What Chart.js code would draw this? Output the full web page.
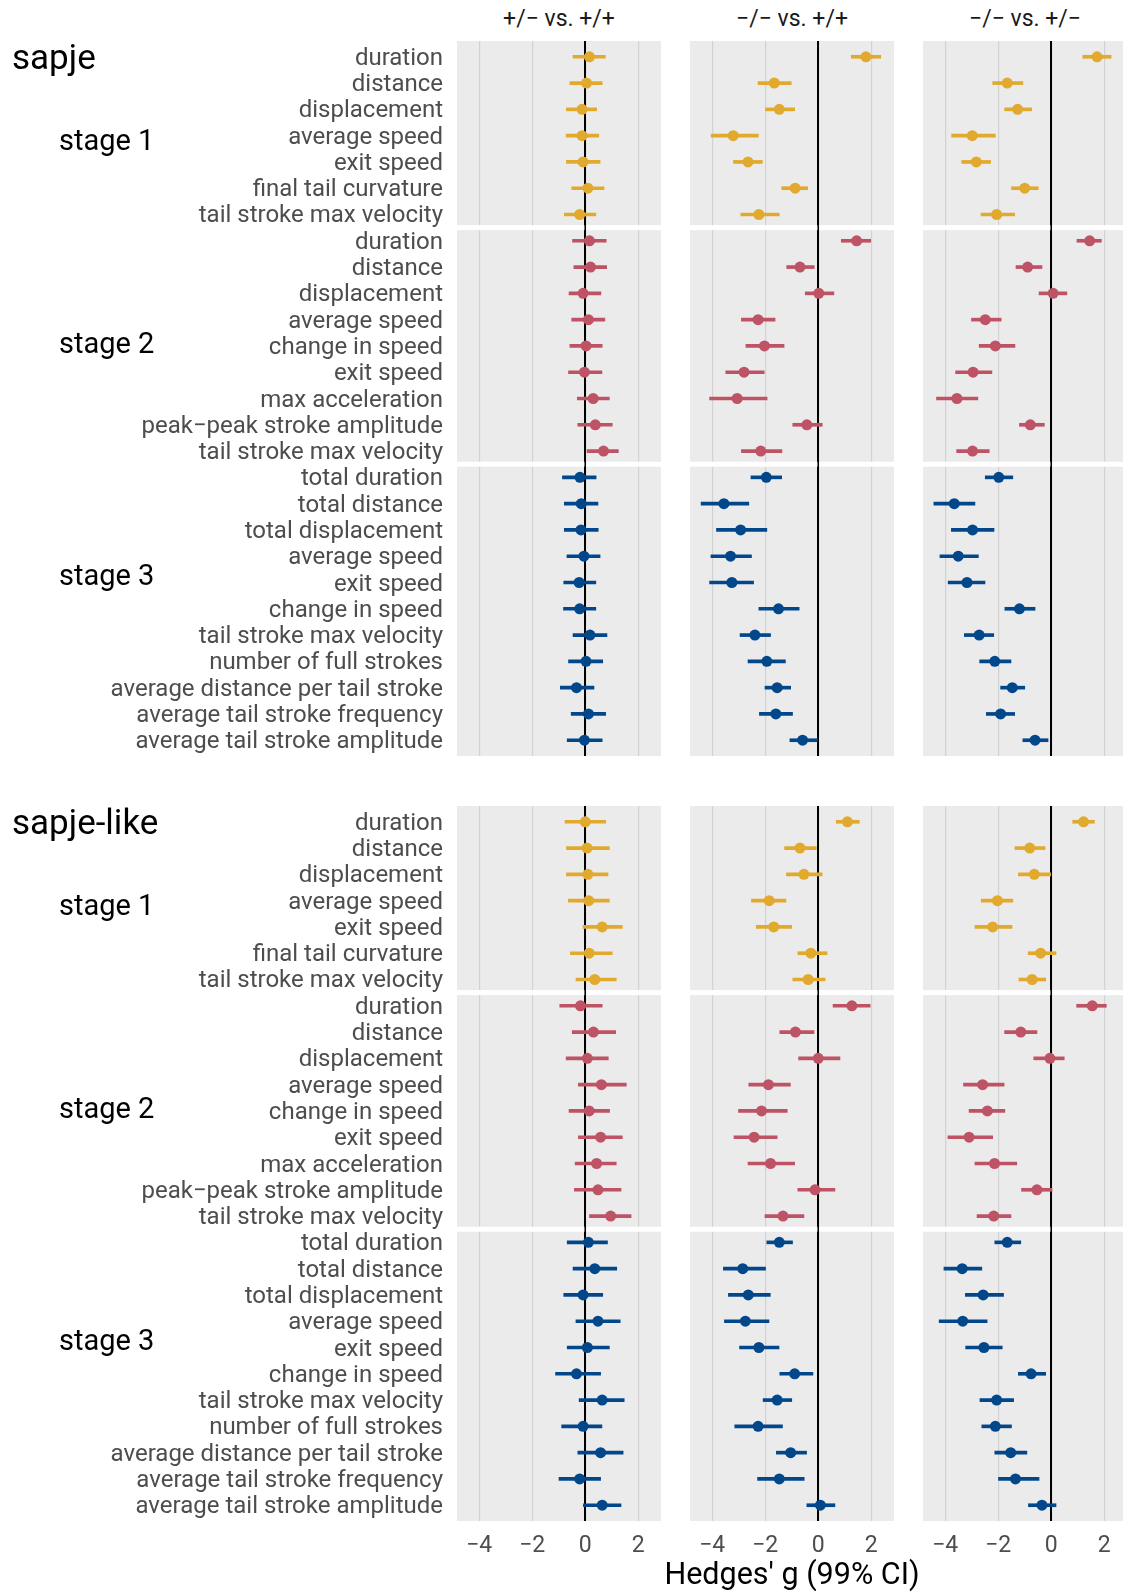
<!DOCTYPE html>
<html>
<head>
<meta charset="utf-8">
<title>Hedges' g by genotype comparison</title>
<script src="https://cdn.jsdelivr.net/npm/chart.js@4.4.1/dist/chart.umd.min.js"></script>
<style>
  html, body { margin: 0; padding: 0; background: #fff; overflow: hidden; }
  #page { position: relative; width: 1123px; height: 1594px; overflow: hidden; font-family: Roboto, "Noto Sans", sans-serif; }
  #page canvas { position: absolute; display: block; }
  .txt { position: absolute; white-space: nowrap; line-height: 1; }
</style>
</head>
<body>
<div id="page"></div>
<script>
// ---------------------------------------------------------------------------
// Categories
// ---------------------------------------------------------------------------
const groups = ['sapje', 'sapje-like'];
const stages = ['stage 1', 'stage 2', 'stage 3'];
const comparisons = ['+/\u2212 vs. +/+', '\u2212/\u2212 vs. +/+', '\u2212/\u2212 vs. +/\u2212'];

const stage1Metrics = ['duration', 'distance', 'displacement', 'average speed', 'exit speed',
  'final tail curvature', 'tail stroke max velocity'];
const stage2Metrics = ['duration', 'distance', 'displacement', 'average speed', 'change in speed',
  'exit speed', 'max acceleration', 'peak\u2212peak stroke amplitude', 'tail stroke max velocity'];
const stage3Metrics = ['total duration', 'total distance', 'total displacement', 'average speed',
  'exit speed', 'change in speed', 'tail stroke max velocity', 'number of full strokes',
  'average distance per tail stroke', 'average tail stroke frequency', 'average tail stroke amplitude'];

const xTicks = [-4, -2, 0, 2];
const axisTitle = "Hedges' g (99% CI)";

// ---------------------------------------------------------------------------
// Effect sizes (g) with 99% CI bounds (lo, hi)
// het = +/-, mut = -/-, wt = +/+
// ---------------------------------------------------------------------------
// sapje, stage 1
const sapjeS1_hetWt_g  = [0.16, 0.05, -0.12, -0.12, -0.08, 0.10, -0.21];
const sapjeS1_hetWt_lo = [-0.46, -0.58, -0.71, -0.72, -0.71, -0.51, -0.79];
const sapjeS1_hetWt_hi = [0.76, 0.64, 0.43, 0.51, 0.56, 0.71, 0.40];
const sapjeS1_mutWt_g  = [1.80, -1.66, -1.47, -3.21, -2.65, -0.87, -2.24];
const sapjeS1_mutWt_lo = [1.25, -2.27, -1.99, -4.04, -3.20, -1.38, -2.92];
const sapjeS1_mutWt_hi = [2.36, -1.02, -0.89, -2.26, -2.11, -0.40, -1.47];
const sapjeS1_mutHet_g  = [1.73, -1.66, -1.27, -2.98, -2.83, -1.00, -2.06];
const sapjeS1_mutHet_lo = [1.19, -2.21, -1.76, -3.76, -3.38, -1.50, -2.65];
const sapjeS1_mutHet_hi = [2.26, -1.07, -0.74, -2.11, -2.29, -0.49, -1.38];

// sapje, stage 2
const sapjeS2_hetWt_g  = [0.16, 0.20, -0.08, 0.12, 0.03, -0.03, 0.30, 0.38, 0.69];
const sapjeS2_hetWt_lo = [-0.48, -0.43, -0.61, -0.51, -0.58, -0.63, -0.30, -0.28, 0.07];
const sapjeS2_hetWt_hi = [0.79, 0.81, 0.59, 0.74, 0.64, 0.63, 0.91, 1.02, 1.25];
const sapjeS2_mutWt_g  = [1.45, -0.69, 0.02, -2.27, -2.03, -2.80, -3.06, -0.43, -2.17];
const sapjeS2_mutWt_lo = [0.87, -1.19, -0.49, -2.90, -2.73, -3.49, -4.10, -0.96, -2.90];
const sapjeS2_mutWt_hi = [1.98, -0.15, 0.59, -1.63, -1.29, -2.04, -1.93, 0.15, -1.37];
const sapjeS2_mutHet_g  = [1.45, -0.89, 0.07, -2.49, -2.11, -2.95, -3.56, -0.79, -2.97];
const sapjeS2_mutHet_lo = [0.97, -1.33, -0.46, -3.01, -2.72, -3.61, -4.33, -1.20, -3.57];
const sapjeS2_mutHet_hi = [1.89, -0.35, 0.59, -1.89, -1.37, -2.24, -2.77, -0.26, -2.34];

// sapje, stage 3
const sapjeS3_hetWt_g  = [-0.20, -0.15, -0.16, -0.05, -0.23, -0.21, 0.18, 0.03, -0.33, 0.12, -0.03];
const sapjeS3_hetWt_lo = [-0.86, -0.79, -0.79, -0.69, -0.81, -0.82, -0.46, -0.63, -0.94, -0.53, -0.68];
const sapjeS3_hetWt_hi = [0.41, 0.48, 0.49, 0.56, 0.40, 0.40, 0.82, 0.66, 0.33, 0.77, 0.64];
const sapjeS3_mutWt_g  = [-1.96, -3.56, -2.93, -3.31, -3.26, -1.50, -2.39, -1.94, -1.55, -1.60, -0.59];
const sapjeS3_mutWt_lo = [-2.54, -4.42, -3.84, -4.05, -4.10, -2.24, -2.95, -2.65, -2.01, -2.22, -1.07];
const sapjeS3_mutWt_hi = [-1.38, -2.62, -1.94, -2.52, -2.44, -0.72, -1.80, -1.24, -1.04, -0.97, -0.03];
const sapjeS3_mutHet_g  = [-1.98, -3.66, -2.97, -3.51, -3.18, -1.20, -2.72, -2.13, -1.47, -1.91, -0.61];
const sapjeS3_mutHet_lo = [-2.49, -4.43, -3.77, -4.20, -3.89, -1.75, -3.28, -2.70, -1.91, -2.45, -1.07];
const sapjeS3_mutHet_hi = [-1.45, -2.88, -2.16, -2.75, -2.50, -0.61, -2.17, -1.52, -1.00, -1.38, -0.12];

// sapje-like, stage 1
const likeS1_hetWt_g  = [0.00, 0.07, 0.10, 0.13, 0.64, 0.15, 0.36];
const likeS1_hetWt_lo = [-0.76, -0.71, -0.71, -0.64, -0.08, -0.56, -0.35];
const likeS1_hetWt_hi = [0.77, 0.91, 0.86, 0.91, 1.40, 1.02, 1.17];
const likeS1_mutWt_g  = [1.10, -0.69, -0.54, -1.85, -1.68, -0.28, -0.38];
const likeS1_mutWt_lo = [0.68, -1.27, -1.20, -2.52, -2.34, -0.77, -0.96];
const likeS1_mutWt_hi = [1.55, -0.07, 0.15, -1.22, -1.00, 0.33, 0.26];
const likeS1_mutHet_g  = [1.22, -0.81, -0.64, -2.03, -2.21, -0.40, -0.72];
const likeS1_mutHet_lo = [0.81, -1.37, -1.24, -2.64, -2.88, -0.87, -1.22];
const likeS1_mutHet_hi = [1.63, -0.23, -0.02, -1.45, -1.48, 0.18, -0.21];

// sapje-like, stage 2
const likeS2_hetWt_g  = [-0.18, 0.31, 0.08, 0.61, 0.15, 0.58, 0.43, 0.48, 0.96];
const likeS2_hetWt_lo = [-0.96, -0.49, -0.72, -0.26, -0.61, -0.26, -0.38, -0.41, 0.16];
const likeS2_hetWt_hi = [0.64, 1.15, 0.87, 1.55, 0.92, 1.40, 1.17, 1.35, 1.73];
const likeS2_mutWt_g  = [1.27, -0.86, 0.00, -1.88, -2.14, -2.42, -1.80, -0.12, -1.33];
const likeS2_mutWt_lo = [0.56, -1.45, -0.74, -2.62, -3.01, -3.18, -2.65, -0.77, -2.01];
const likeS2_mutWt_hi = [1.96, -0.16, 0.82, -1.05, -1.17, -1.55, -0.89, 0.63, -0.54];
const likeS2_mutHet_g  = [1.55, -1.15, -0.05, -2.59, -2.41, -3.10, -2.14, -0.54, -2.17];
const likeS2_mutHet_lo = [0.96, -1.76, -0.66, -3.31, -3.10, -3.90, -2.88, -1.12, -2.80];
const likeS2_mutHet_hi = [2.08, -0.54, 0.49, -1.78, -1.75, -2.21, -1.30, 0.03, -1.52];

// sapje-like, stage 3
const likeS3_hetWt_g  = [0.12, 0.36, -0.08, 0.48, 0.08, -0.33, 0.64, -0.08, 0.58, -0.21, 0.64];
const likeS3_hetWt_lo = [-0.68, -0.46, -0.81, -0.35, -0.68, -1.12, -0.23, -0.89, -0.28, -0.99, -0.07];
const likeS3_hetWt_hi = [0.84, 1.19, 0.66, 1.32, 0.91, 0.58, 1.47, 0.63, 1.43, 0.58, 1.35];
const likeS3_mutWt_g  = [-1.47, -2.85, -2.64, -2.75, -2.24, -0.89, -1.55, -2.27, -1.04, -1.47, 0.08];
const likeS3_mutWt_lo = [-1.94, -3.58, -3.39, -3.54, -2.97, -1.45, -2.08, -3.15, -1.58, -2.29, -0.43];
const likeS3_mutWt_hi = [-0.97, -1.99, -1.81, -1.86, -1.48, -0.20, -1.00, -1.35, -0.44, -0.53, 0.63];
const likeS3_mutHet_g  = [-1.66, -3.36, -2.57, -3.34, -2.54, -0.76, -2.06, -2.11, -1.53, -1.35, -0.35];
const likeS3_mutHet_lo = [-2.13, -4.05, -3.24, -4.23, -3.23, -1.24, -2.69, -2.62, -2.13, -1.99, -0.86];
const likeS3_mutHet_hi = [-1.15, -2.62, -1.80, -2.42, -1.85, -0.21, -1.42, -1.50, -0.92, -0.46, 0.18];

// ---------------------------------------------------------------------------
// Styling and layout
// ---------------------------------------------------------------------------
const stageColors = ['#E1AA2E', '#BE5365', '#03478B'];
const X_MIN = -4.84, X_MAX = 2.86;
const ROW_EXPAND = 0.6;          // empty space above the first and below the last row, in rows

const colLeft = [457, 690, 923];
const panelWidth = 204;
const groupTop = [41, 806];
const panelHeight = 715;
const axisBand = 50;             // room under the last panel row for tick labels

// Panel table assembled from the arrays above: [group][stage][comparison]
const panelData = [
  [
    [[sapjeS1_hetWt_g, sapjeS1_hetWt_lo, sapjeS1_hetWt_hi],
     [sapjeS1_mutWt_g, sapjeS1_mutWt_lo, sapjeS1_mutWt_hi],
     [sapjeS1_mutHet_g, sapjeS1_mutHet_lo, sapjeS1_mutHet_hi]],
    [[sapjeS2_hetWt_g, sapjeS2_hetWt_lo, sapjeS2_hetWt_hi],
     [sapjeS2_mutWt_g, sapjeS2_mutWt_lo, sapjeS2_mutWt_hi],
     [sapjeS2_mutHet_g, sapjeS2_mutHet_lo, sapjeS2_mutHet_hi]],
    [[sapjeS3_hetWt_g, sapjeS3_hetWt_lo, sapjeS3_hetWt_hi],
     [sapjeS3_mutWt_g, sapjeS3_mutWt_lo, sapjeS3_mutWt_hi],
     [sapjeS3_mutHet_g, sapjeS3_mutHet_lo, sapjeS3_mutHet_hi]]
  ],
  [
    [[likeS1_hetWt_g, likeS1_hetWt_lo, likeS1_hetWt_hi],
     [likeS1_mutWt_g, likeS1_mutWt_lo, likeS1_mutWt_hi],
     [likeS1_mutHet_g, likeS1_mutHet_lo, likeS1_mutHet_hi]],
    [[likeS2_hetWt_g, likeS2_hetWt_lo, likeS2_hetWt_hi],
     [likeS2_mutWt_g, likeS2_mutWt_lo, likeS2_mutWt_hi],
     [likeS2_mutHet_g, likeS2_mutHet_lo, likeS2_mutHet_hi]],
    [[likeS3_hetWt_g, likeS3_hetWt_lo, likeS3_hetWt_hi],
     [likeS3_mutWt_g, likeS3_mutWt_lo, likeS3_mutWt_hi],
     [likeS3_mutHet_g, likeS3_mutHet_lo, likeS3_mutHet_hi]]
  ]
];
const stageMetrics = [stage1Metrics, stage2Metrics, stage3Metrics];

// Rows of one panel: all stages stacked top to bottom
const rowLabels = [].concat(...stageMetrics);
const rowStage = [].concat(...stageMetrics.map((m, si) => m.map(() => si)));
const rowColors = rowStage.map(si => stageColors[si]);
// Boundaries between stages, halfway between the last row of one stage and the first of the next
const stageBreaks = stageMetrics.slice(0, -1).reduce((acc, m) => {
  const prev = acc.length ? acc[acc.length - 1] + 0.5 : 0;
  acc.push(prev + m.length - 0.5);
  return acc;
}, []);

const page = document.getElementById('page');

// Grey panel background behind grid and marks
const panelBackground = {
  id: 'panelBackground',
  beforeDraw(chart) {
    const { ctx, chartArea: a } = chart;
    ctx.save();
    ctx.fillStyle = '#EBEBEB';
    ctx.fillRect(a.left, a.top, a.right - a.left, a.bottom - a.top);
    ctx.restore();
  }
};

// White separators between stages, with the zero reference line kept on top
const stageSeparators = {
  id: 'stageSeparators',
  beforeDatasetsDraw(chart) {
    const { ctx, chartArea: a, scales } = chart;
    ctx.save();
    ctx.fillStyle = '#FFFFFF';
    stageBreaks.forEach(b => {
      const y = scales.y.getPixelForValue(b);
      ctx.fillRect(a.left, y - 2.5, a.right - a.left, 5);
    });
    const x0 = scales.x.getPixelForValue(0);
    ctx.strokeStyle = '#000000';
    ctx.lineWidth = 1.6;
    ctx.beginPath();
    ctx.moveTo(x0, a.top);
    ctx.lineTo(x0, a.bottom);
    ctx.stroke();
    ctx.restore();
  }
};

const fmtTick = v => (v < 0 ? '\u2212' + Math.abs(v) : String(v));

// Keep each scale from reserving extra room for label overhang
function noOverhang(s) {
  s.paddingTop = 0; s.paddingBottom = 0; s.paddingLeft = 0; s.paddingRight = 0;
}

function addPanel(gi, ci) {
  const g = [], lo = [], hi = [];
  panelData[gi].forEach(stageSet => {
    const [sg, slo, shi] = stageSet[ci];
    g.push(...sg); lo.push(...slo); hi.push(...shi);
  });

  const isLeft = ci === 0;
  const isBottom = gi === groups.length - 1;
  const top = groupTop[gi];
  const left = isLeft ? 0 : colLeft[ci];
  const w = isLeft ? colLeft[0] + panelWidth : panelWidth;
  const ch = panelHeight + (isBottom ? axisBand : 0);

  const canvas = document.createElement('canvas');
  canvas.width = w; canvas.height = ch;
  canvas.style.left = left + 'px'; canvas.style.top = top + 'px';
  canvas.style.width = w + 'px'; canvas.style.height = ch + 'px';
  page.appendChild(canvas);

  new Chart(canvas, {
    type: 'bar',
    data: {
      datasets: [
        {
          type: 'bar', indexAxis: 'y', order: 2,
          data: rowLabels.map((_, i) => ({ y: i, x: [lo[i], hi[i]] })),
          backgroundColor: rowColors, borderWidth: 0, barThickness: 3
        },
        {
          type: 'line', indexAxis: 'y', order: 1,
          data: rowLabels.map((_, i) => ({ y: i, x: g[i] })), showLine: false,
          pointRadius: 5.5, pointHoverRadius: 5.5, pointBorderWidth: 0,
          pointBackgroundColor: rowColors, borderColor: rowColors
        }
      ]
    },
    options: {
      indexAxis: 'y',
      responsive: false,
      animation: false,
      events: [],
      layout: { padding: 0, autoPadding: false },
      plugins: { legend: { display: false }, tooltip: { enabled: false } },
      scales: {
        x: {
          type: 'linear', position: 'bottom', min: X_MIN, max: X_MAX, offset: false,
          afterBuildTicks: s => { s.ticks = xTicks.map(v => ({ value: v })); },
          afterFit: s => { s.height = isBottom ? axisBand : 0; noOverhang(s); },
          border: { display: false },
          grid: {
            drawTicks: false, offset: false,
            color: c => (c.tick && c.tick.value === 0 ? '#000000' : '#D2D2D2'),
            lineWidth: c => (c.tick && c.tick.value === 0 ? 1.6 : 1.2)
          },
          ticks: {
            display: isBottom, padding: 11, color: '#4D4D4D',
            font: { family: 'Roboto', size: 23 },
            callback: v => fmtTick(v)
          }
        },
        y: {
          type: 'linear', display: isLeft, reverse: true, offset: false, bounds: 'data', grace: 0,
          min: -ROW_EXPAND, max: rowLabels.length - 1 + ROW_EXPAND,
          afterBuildTicks: s => { s.ticks = rowLabels.map((_, i) => ({ value: i })); },
          afterFit: s => { s.width = isLeft ? colLeft[0] : 0; noOverhang(s); },
          border: { display: false },
          grid: { display: false, drawTicks: false, offset: false },
          ticks: {
            autoSkip: false, padding: 14, labelOffset: 2, color: '#4D4D4D',
            font: { family: 'Roboto', size: 24 },
            callback: v => rowLabels[v]
          }
        }
      }
    },
    plugins: [panelBackground, stageSeparators]
  });
}

groups.forEach((_, gi) => comparisons.forEach((_, ci) => addPanel(gi, ci)));

// ---------------------------------------------------------------------------
// Titles and labels; positions given by baseline (Roboto baseline ≈ 0.8415 em below box top)
// ---------------------------------------------------------------------------
function addText(text, x, baseline, size, color, align) {
  const d = document.createElement('div');
  d.className = 'txt';
  d.textContent = text;
  d.style.fontSize = size + 'px';
  d.style.color = color;
  d.style.top = (baseline - 0.8415 * size) + 'px';
  d.style.left = x + 'px';
  if (align === 'center') d.style.transform = 'translateX(-50%)';
  page.appendChild(d);
}

comparisons.forEach((t, ci) => addText(t, colLeft[ci] + panelWidth / 2, 26.5, 23, '#1A1A1A', 'center'));

const groupBaselines = [69, 834];
const stageBaselines = [150.3, 353.7, 585.5];
groups.forEach((name, gi) => {
  addText(name, 12, groupBaselines[gi], 35, '#000000');
  stages.forEach((s, si) => addText(s, 59, stageBaselines[si] + groupTop[gi] - groupTop[0], 29, '#000000'));
});

addText(axisTitle, colLeft[1] + panelWidth / 2, 1585, 30.5, '#000000', 'center');
</script>
</body>
</html>
